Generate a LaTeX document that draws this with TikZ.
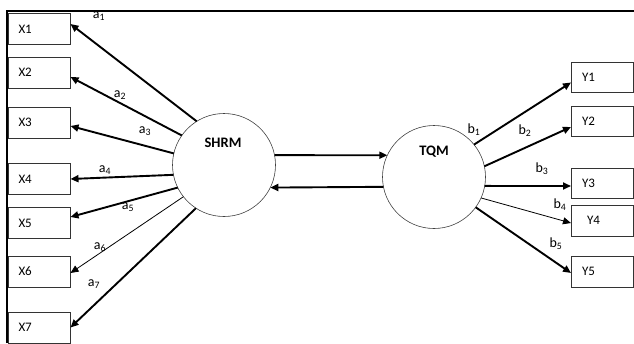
\documentclass[tikz,border=0pt]{standalone}
\usepackage{fontspec}
\setmainfont{Carlito}
\usetikzlibrary{arrows.meta}
\begin{document}
\begin{tikzpicture}[x=1pt,y=-1pt,
  box/.style={draw=black!80, line width=1pt, minimum width=62pt, minimum height=31pt,
    inner xsep=10pt, inner ysep=0pt, text width=42pt, align=left, outer sep=0pt,
    font=\fontsize{13}{15}\selectfont},
  ybox/.style={box, inner xsep=11pt, text width=40pt},
  hub/.style={circle, draw=black!75, line width=0.6pt, minimum size=103pt, inner sep=0pt, outer sep=0pt},
  hubtext/.style={font=\fontsize{14.5}{16}\selectfont\bfseries, inner sep=0pt},
  thick arrow/.style={line width=1.9pt, -{Triangle[length=8pt,width=7pt]}},
  thin arrow/.style={line width=0.8pt, -{Triangle[length=8pt,width=7pt]}},
  lab/.style={font=\fontsize{14}{16}\selectfont, inner sep=0pt}
]
\useasboundingbox (0,0) rectangle (634,343);
\draw[line width=1.5pt] (7,343) -- (7,11) -- (634,11);

% left boxes
\node[box] (x1) at (39.5,29) {X1};
\node[box] (x2) at (39.5,72.5) {X2};
\node[box] (x3) at (39.5,122.5) {X3};
\node[box] (x4) at (39.5,179) {X4};
\node[box] (x5) at (39.5,223) {X5};
\node[box] (x6) at (39.5,271.5) {X6};
\node[box] (x7) at (39.5,327.5) {X7};

% right boxes
\node[ybox,minimum height=30pt] (y1) at (602,77) {Y1};
\node[ybox,minimum height=30pt] (y2) at (602,121) {Y2};
\node[ybox,minimum height=30pt] (y3) at (602,183) {Y3};
\node[ybox,inner xsep=16pt,text width=30pt] (y4) at (602,220.5) {Y4};
\node[ybox] (y5) at (602,271.5) {Y5};

% hubs
\node[hub] (shrm) at (224,165) {};
\node[hubtext] (shrmt) at (223,143) {SHRM};
\node[hub] (tqm) at (434,177) {};
\node[hubtext] (tqmt) at (434,152) {TQM};

% connectors between hubs
\draw[thick arrow] (shrm.11.3) -- (tqm.155);
\draw[thick arrow] (tqm.191) -- (shrm.334.5);

% SHRM to X
\draw[thick arrow] (shrm.122) -- ([yshift=5pt]x1.east);
\draw[thick arrow] (shrm.145) -- ([yshift=-4.5pt]x2.east);
\draw[thick arrow] (shrm.167.6) -- ([yshift=-3.5pt]x3.east);
\draw[thick arrow] (shrm.191) -- (x4.east);
\draw[thick arrow] (shrm.206) -- ([yshift=6pt]x5.east);
\draw[thin arrow] (shrm.218) -- ([yshift=-1.5pt]x6.east);
\draw[thick arrow] (shrm.237) -- (x7.east);

% TQM to Y
\draw[thick arrow] (tqm.39) -- ([yshift=-5.5pt]y1.west);
\draw[thick arrow] (tqm.12.8) -- ([yshift=-6pt]y2.west);
\draw[thick arrow] (tqm.350.4) -- ([yshift=-3pt]y3.west);
\draw[thin arrow] (tqm.336) -- ([yshift=-2.5pt]y4.west);
\draw[thick arrow] (tqm.324) -- ([yshift=-1.5pt]y5.west);

% labels
\node[lab] (la1) at (99,16) {a\textsubscript{1}};
\node[lab] (la2) at (120,95) {a\textsubscript{2}};
\node[lab] (la3) at (145,131) {a\textsubscript{3}};
\node[lab] (la4) at (105,170) {a\textsubscript{4}};
\node[lab] (la5) at (128,207) {a\textsubscript{5}};
\node[lab] (la6) at (100,247) {a\textsubscript{6}};
\node[lab] (la7) at (94,284) {a\textsubscript{7}};

\node[lab] (lb1) at (474,130) {b\textsubscript{1}};
\node[lab] (lb2) at (525,131) {b\textsubscript{2}};
\node[lab] (lb3) at (542,169) {b\textsubscript{3}};
\node[lab] (lb4) at (560,205) {b\textsubscript{4}};
\node[lab] (lb5) at (556,244) {b\textsubscript{5}};
\end{tikzpicture}
\end{document}
